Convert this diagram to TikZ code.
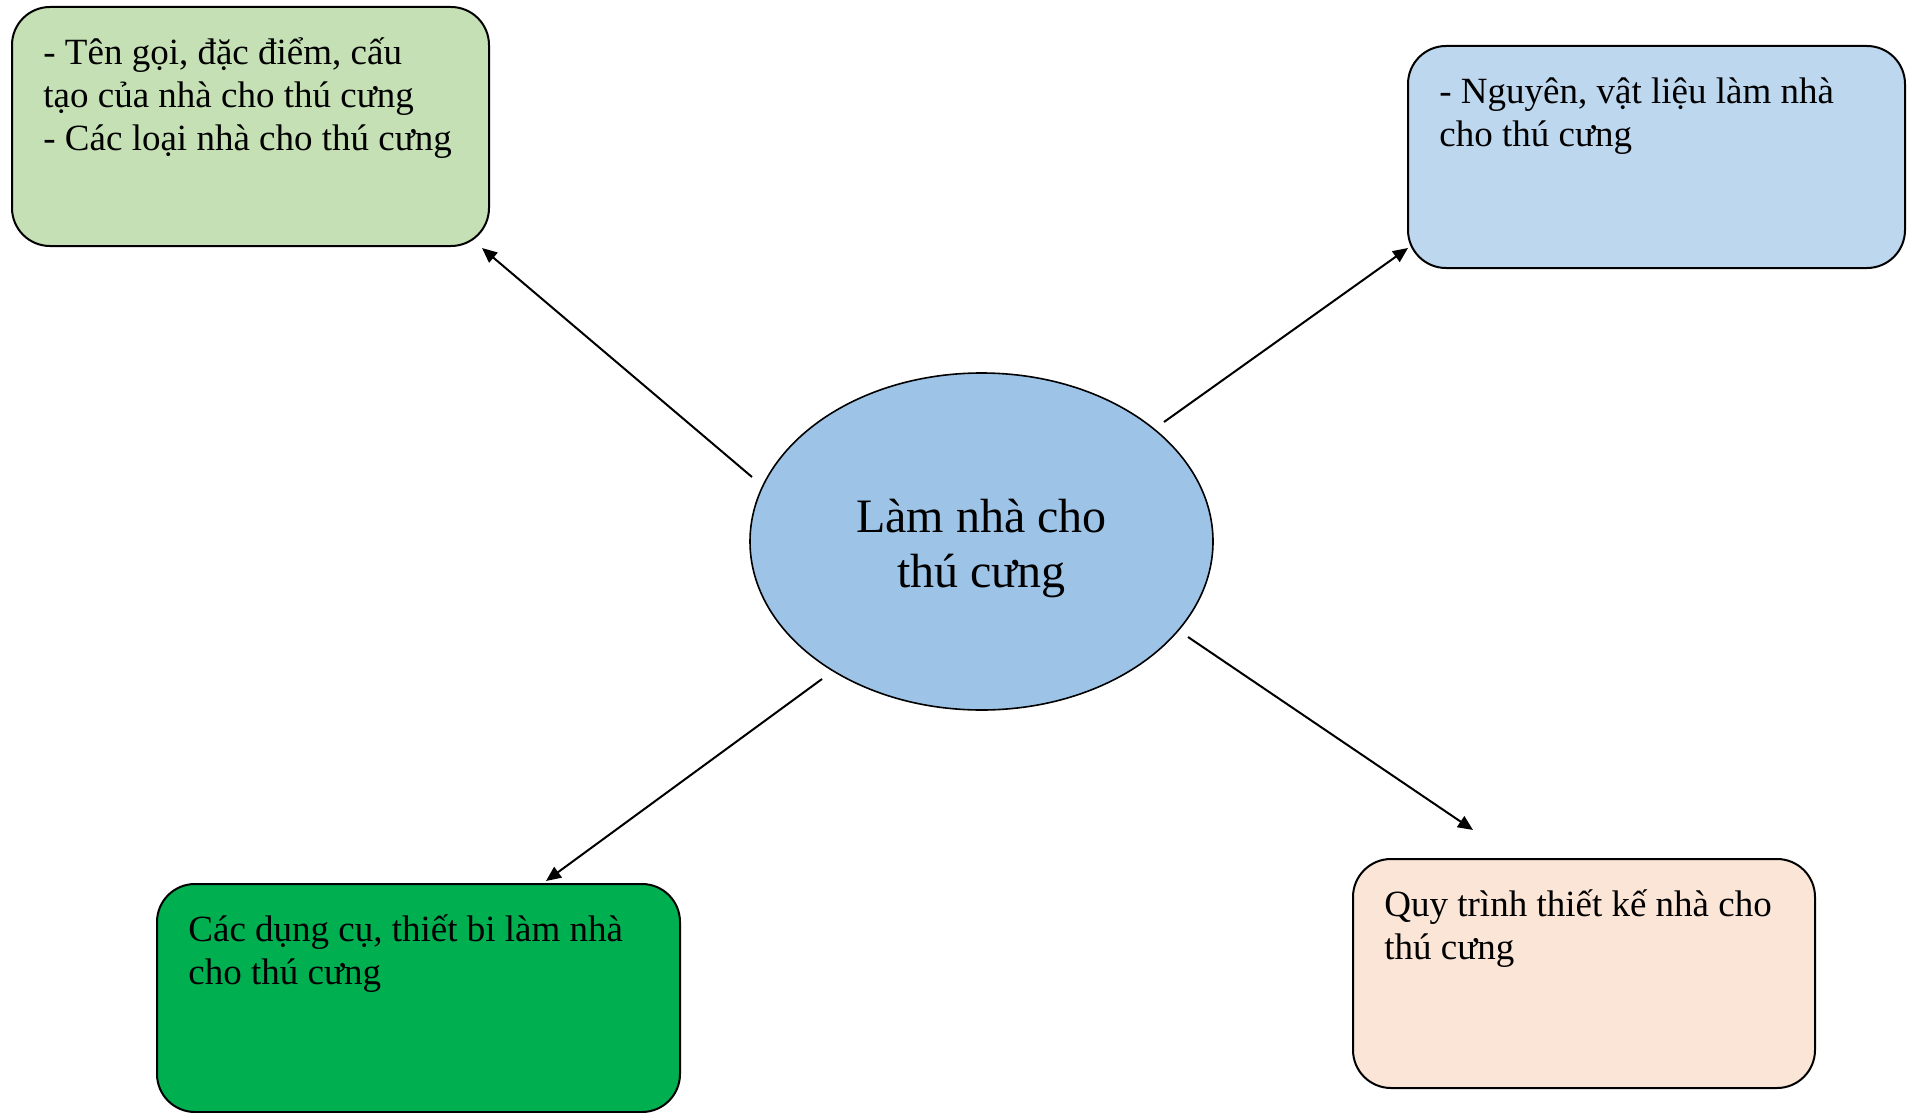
\documentclass[tikz,border=0pt]{standalone}
\usepackage{fontspec}
\setmainfont{Liberation Serif}
\usetikzlibrary{arrows.meta,shapes.geometric}

\definecolor{leafgreen}{HTML}{C5E0B4}
\definecolor{paleblue}{HTML}{BDD7EE}
\definecolor{skyblue}{HTML}{9DC3E6}
\definecolor{grassgreen}{HTML}{00B050}
\definecolor{peach}{HTML}{FBE5D6}

\newcommand{\notestrut}{\rule{0pt}{1em}}

\tikzset{
  box/.style={draw, line width=1pt, rounded corners=19pt, outer sep=0pt, inner sep=0pt},
  note/.style={anchor=north west, inner sep=0pt, align=left, font=\fontsize{18.5}{21.5}\selectfont},
  link/.style={line width=1pt, -{Triangle[length=7.5pt,width=6.5pt]}}
}

\begin{document}
\begin{tikzpicture}[x=0.5pt, y=-0.5pt]
  \useasboundingbox (0,0) rectangle (1907,1113);

  %Centre
  \node [draw, ellipse, line width=0.8pt, fill=skyblue, minimum width=231.5pt, minimum height=168.5pt, inner sep=0pt, outer sep=0pt]
  (c)at(981.5,541.5){};
  \node [anchor=north, inner sep=0pt, align=center, font=\fontsize{24}{27.5}\selectfont]
  (ctitle)at([shift={(0,-57.5)}]c.center){\notestrut Làm nhà cho\\thú cưng};

  %Top left
  \node [box, fill=leafgreen, minimum width=238.5pt, minimum height=119.5pt]
  (tl)at(250.5,126.5){};
  \node [note]
  (tltext)at([shift={(31,20)}]tl.north west){\notestrut - Tên gọi, đặc điểm, cấu\\tạo của nhà cho thú cưng\\- Các loại nhà cho thú cưng};

  %Top right
  \node [box, fill=paleblue, minimum width=248.5pt, minimum height=111pt]
  (tr)at(1656.5,157){};
  \node [note]
  (trtext)at([shift={(31,20)}]tr.north west){\notestrut - Nguyên, vật liệu làm nhà\\cho thú cưng};

  %Bottom left
  \node [box, fill=grassgreen, minimum width=261.5pt, minimum height=114pt]
  (bl)at(418.5,998){};
  \node [note]
  (bltext)at([shift={(31,20)}]bl.north west){\notestrut Các dụng cụ, thiết bi làm nhà\\cho thú cưng};

  %Bottom right
  \node [box, fill=peach, minimum width=231pt, minimum height=114.5pt]
  (br)at(1584,973.5){};
  \node [note]
  (brtext)at([shift={(31,20)}]br.north west){\notestrut Quy trình thiết kế nhà cho\\thú cưng};

  \draw [link]([shift={(-229.5,-64.5)}]c.center)--([shift={(-7,2)}]tl.south east);
  \draw [link]([shift={(182.5,-119.5)}]c.center)--([shift={(0,-20)}]tr.south west);
  \draw [link]([shift={(-159.5,137.5)}]c.center)--([shift={(389,-3)}]bl.north west);
  \draw [link]([shift={(206.5,95.5)}]c.center)--([shift={(120,-29)}]br.north west);

\end{tikzpicture}
\end{document}
